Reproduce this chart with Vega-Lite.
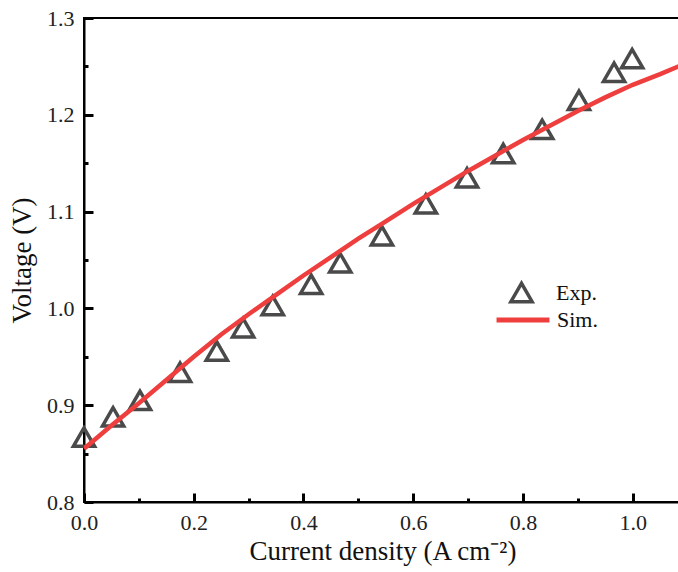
{
  "$schema": "https://vega.github.io/schema/vega-lite/v6.json",
  "autosize": "none",
  "padding": {"left": 84, "top": 18, "right": 0, "bottom": 70},
  "width": 597,
  "height": 484,
  "background": "white",
  "view": {"stroke": "black", "strokeWidth": 2},
  "config": {
    "font": "Liberation Serif",
    "axis": {"grid": false, "labelFont": "Liberation Serif", "titleFont": "Liberation Serif", "labelColor": "#222", "titleColor": "#111", "tickColor": "black", "domainColor": "black", "labelFlush": false, "labelOverlap": false, "zindex": 1}
  },
  "datasets": {
    "exp": [
      {"j": 0.0, "v": 0.867, "series": "Exp."},
      {"j": 0.053, "v": 0.888, "series": "Exp."},
      {"j": 0.102, "v": 0.905, "series": "Exp."},
      {"j": 0.175, "v": 0.934, "series": "Exp."},
      {"j": 0.242, "v": 0.956, "series": "Exp."},
      {"j": 0.29, "v": 0.98, "series": "Exp."},
      {"j": 0.344, "v": 1.003, "series": "Exp."},
      {"j": 0.414, "v": 1.025, "series": "Exp."},
      {"j": 0.467, "v": 1.047, "series": "Exp."},
      {"j": 0.543, "v": 1.075, "series": "Exp."},
      {"j": 0.623, "v": 1.108, "series": "Exp."},
      {"j": 0.698, "v": 1.135, "series": "Exp."},
      {"j": 0.764, "v": 1.16, "series": "Exp."},
      {"j": 0.835, "v": 1.185, "series": "Exp."},
      {"j": 0.902, "v": 1.215, "series": "Exp."},
      {"j": 0.966, "v": 1.244, "series": "Exp."},
      {"j": 0.999, "v": 1.258, "series": "Exp."}
    ],
    "sim": [
      {"j": 0.0, "v": 0.855, "model": "Sim."},
      {"j": 0.05, "v": 0.879, "model": "Sim."},
      {"j": 0.1, "v": 0.902, "model": "Sim."},
      {"j": 0.15, "v": 0.926, "model": "Sim."},
      {"j": 0.2, "v": 0.95, "model": "Sim."},
      {"j": 0.25, "v": 0.973, "model": "Sim."},
      {"j": 0.3, "v": 0.994, "model": "Sim."},
      {"j": 0.35, "v": 1.014, "model": "Sim."},
      {"j": 0.4, "v": 1.034, "model": "Sim."},
      {"j": 0.45, "v": 1.053, "model": "Sim."},
      {"j": 0.5, "v": 1.072, "model": "Sim."},
      {"j": 0.55, "v": 1.09, "model": "Sim."},
      {"j": 0.6, "v": 1.108, "model": "Sim."},
      {"j": 0.65, "v": 1.125, "model": "Sim."},
      {"j": 0.7, "v": 1.142, "model": "Sim."},
      {"j": 0.75, "v": 1.158, "model": "Sim."},
      {"j": 0.8, "v": 1.174, "model": "Sim."},
      {"j": 0.85, "v": 1.189, "model": "Sim."},
      {"j": 0.9, "v": 1.204, "model": "Sim."},
      {"j": 0.95, "v": 1.218, "model": "Sim."},
      {"j": 1.0, "v": 1.231, "model": "Sim."},
      {"j": 1.05, "v": 1.242, "model": "Sim."},
      {"j": 1.088, "v": 1.251, "model": "Sim."}
    ]
  },
  "layer": [
    {
      "data": {"name": "exp"},
      "mark": {"type": "point", "filled": false, "strokeWidth": 3.5, "size": 450, "color": "#4a4a4a", "opacity": 1},
      "encoding": {
        "x": {"field": "j", "type": "quantitative", "scale": {"domain": [0, 1.088], "nice": false, "zero": false},
          "axis": {"orient": "bottom", "values": [0, 0.1, 0.2, 0.3, 0.4, 0.5, 0.6, 0.7, 0.8, 0.9, 1.0],
            "labelExpr": "round(datum.value*10) % 2 == 0 ? format(datum.value, '.1f') : ''",
            "ticks": true,
            "tickSize": {"condition": {"test": "round(datum.value*10) % 2 == 0", "value": -9}, "value": -4},
            "tickWidth": 3, "domainWidth": 2, "labelFontSize": 22, "labelPadding": 19, "title": "Current density (A cm⁻²)", "titleFontSize": 27, "titleFontWeight": "normal", "titlePadding": 0}},
        "y": {"field": "v", "type": "quantitative", "scale": {"domain": [0.8, 1.3], "nice": false, "zero": false},
          "axis": {"orient": "left", "values": [0.8, 0.85, 0.9, 0.95, 1.0, 1.05, 1.1, 1.15, 1.2, 1.25, 1.3],
            "labelExpr": "round(datum.value*20) % 2 == 0 ? format(datum.value, '.1f') : ''",
            "ticks": true,
            "tickSize": {"condition": {"test": "round(datum.value*20) % 2 == 0", "value": -9}, "value": -4},
            "tickWidth": 3, "domainWidth": 2, "labelFontSize": 22, "labelPadding": 19, "title": "Voltage (V)", "titleFontSize": 27, "titleFontWeight": "normal", "titlePadding": 10}},
        "shape": {"field": "series", "type": "nominal", "scale": {"domain": ["Exp."], "range": ["triangle-up"]},
          "legend": {"title": null, "orient": "none", "legendX": 425, "legendY": 262, "padding": 0, "labelFont": "Liberation Serif", "labelFontSize": 22, "labelColor": "#111", "labelOffset": 22, "symbolSize": 450, "symbolStrokeWidth": 3.5, "symbolStrokeColor": "#4a4a4a", "symbolFillColor": "transparent"}}
      }
    },
    {
      "data": {"name": "sim"},
      "mark": {"type": "line", "strokeWidth": 4.5, "clip": true},
      "encoding": {
        "x": {"field": "j", "type": "quantitative"},
        "y": {"field": "v", "type": "quantitative"},
        "color": {"field": "model", "type": "nominal", "scale": {"domain": ["Sim."], "range": ["#ef3e3e"]},
          "legend": {"title": null, "orient": "none", "legendX": 410, "legendY": 273, "padding": 0, "labelFont": "Liberation Serif", "labelFontSize": 22, "labelColor": "#111", "labelOffset": 5, "symbolType": "stroke", "symbolSize": 2800, "symbolStrokeWidth": 5}}
      }
    }
  ]
}
